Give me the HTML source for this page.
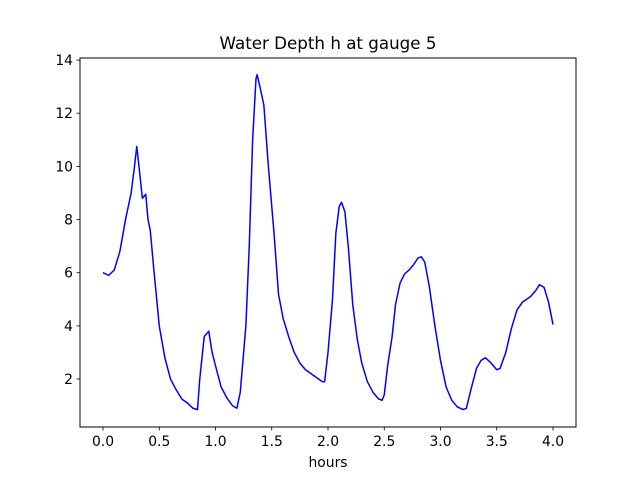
<!DOCTYPE html>
<html><head><meta charset="utf-8"><style>body{margin:0;background:#fff}svg{display:block}text{font-family:"DejaVu Sans","Liberation Sans",sans-serif;fill:#000}</style></head>
<body>
<svg width="640" height="480" viewBox="0 0 640 480" xmlns="http://www.w3.org/2000/svg">
<rect width="640" height="480" fill="#fff"/>
<g transform="translate(103,432.2) scale(112.5,-26.58)">
<polyline fill="none" stroke="#0000ff" stroke-width="1.5" vector-effect="non-scaling-stroke" stroke-linejoin="round" points="0,6.0 0.05,5.9 0.1,6.1 0.15,6.8 0.2,8.0 0.25,9.0 0.28,10.0 0.3,10.75 0.32,10.0 0.35,8.8 0.37,8.9 0.38,8.95 0.4,8.0 0.42,7.6 0.45,6.2 0.5,4.0 0.55,2.8 0.6,2.0 0.65,1.6 0.7,1.25 0.75,1.1 0.8,0.9 0.84,0.85 0.86,2.0 0.9,3.6 0.94,3.8 0.97,3.0 1.0,2.5 1.05,1.7 1.1,1.3 1.15,1.0 1.19,0.9 1.22,1.5 1.27,4.0 1.3,7.0 1.33,11.0 1.36,13.3 1.37,13.45 1.4,12.9 1.43,12.3 1.47,10.0 1.52,7.5 1.56,5.2 1.6,4.3 1.65,3.6 1.7,3.0 1.75,2.6 1.8,2.35 1.85,2.2 1.9,2.05 1.95,1.9 1.97,1.9 2.0,3.0 2.04,5.0 2.07,7.5 2.1,8.5 2.12,8.65 2.15,8.3 2.18,7.0 2.22,4.8 2.26,3.5 2.3,2.6 2.35,1.9 2.4,1.5 2.45,1.25 2.48,1.2 2.5,1.4 2.53,2.5 2.57,3.6 2.6,4.8 2.64,5.6 2.68,5.95 2.72,6.1 2.76,6.3 2.8,6.55 2.83,6.6 2.86,6.4 2.9,5.5 2.95,4.0 3.0,2.7 3.05,1.7 3.1,1.2 3.15,0.95 3.2,0.85 3.23,0.9 3.27,1.6 3.32,2.4 3.36,2.7 3.4,2.8 3.45,2.6 3.5,2.35 3.53,2.4 3.58,3.0 3.63,3.9 3.68,4.6 3.73,4.9 3.8,5.1 3.85,5.35 3.88,5.55 3.92,5.45 3.96,4.9 4.0,4.05"/>
</g>
<rect x="80" y="58" width="496" height="369" fill="none" stroke="#000" stroke-width="1"/>
<g stroke="#000" stroke-width="0.8">
<line x1="103" y1="427" x2="103" y2="430.5"/><line x1="159.25" y1="427" x2="159.25" y2="430.5"/><line x1="215.5" y1="427" x2="215.5" y2="430.5"/><line x1="271.75" y1="427" x2="271.75" y2="430.5"/><line x1="328" y1="427" x2="328" y2="430.5"/><line x1="384.25" y1="427" x2="384.25" y2="430.5"/><line x1="440.5" y1="427" x2="440.5" y2="430.5"/><line x1="496.75" y1="427" x2="496.75" y2="430.5"/><line x1="553" y1="427" x2="553" y2="430.5"/>
<line x1="76.5" y1="379" x2="80" y2="379"/><line x1="76.5" y1="325.9" x2="80" y2="325.9"/><line x1="76.5" y1="272.7" x2="80" y2="272.7"/><line x1="76.5" y1="219.6" x2="80" y2="219.6"/><line x1="76.5" y1="166.4" x2="80" y2="166.4"/><line x1="76.5" y1="113.2" x2="80" y2="113.2"/><line x1="76.5" y1="60.1" x2="80" y2="60.1"/>
</g>
<g font-size="13.9" text-anchor="middle">
<text x="103" y="446">0.0</text><text x="159.25" y="446">0.5</text><text x="215.5" y="446">1.0</text><text x="271.75" y="446">1.5</text><text x="328" y="446">2.0</text><text x="384.25" y="446">2.5</text><text x="440.5" y="446">3.0</text><text x="496.75" y="446">3.5</text><text x="553" y="446">4.0</text>
</g>
<g font-size="13.9" text-anchor="end">
<text x="73" y="384">2</text><text x="73" y="330.9">4</text><text x="73" y="277.7">6</text><text x="73" y="224.6">8</text><text x="73" y="171.4">10</text><text x="73" y="118.2">12</text><text x="73" y="65.1">14</text>
</g>
<text x="328" y="467" font-size="13.9" text-anchor="middle">hours</text>
<text x="328" y="49" font-size="16.7" text-anchor="middle">Water Depth h at gauge 5</text>
</svg>
</body></html>
